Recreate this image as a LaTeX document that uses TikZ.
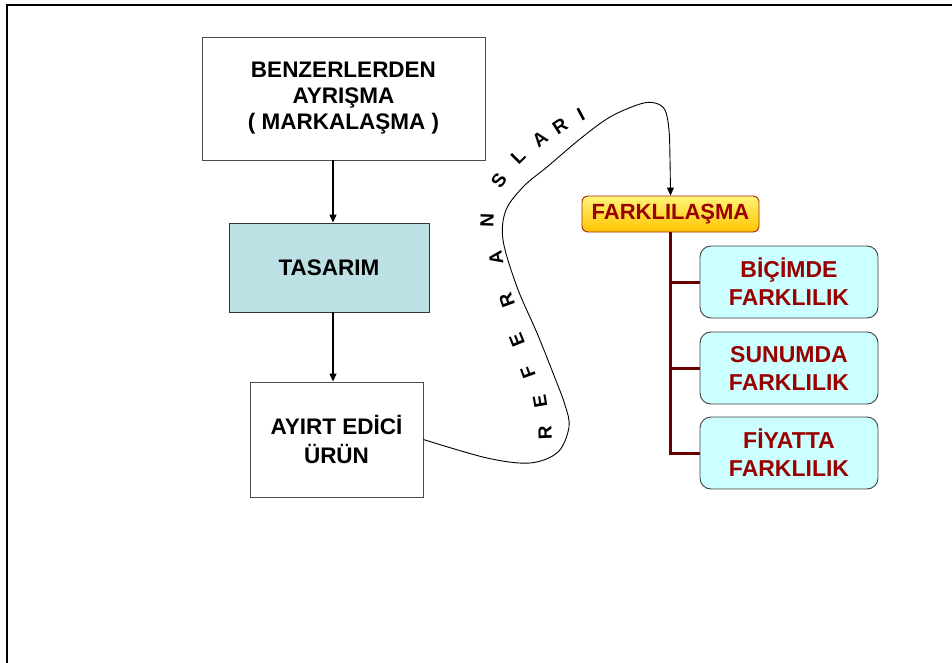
\documentclass[tikz,border=0pt]{standalone}
\usepackage{fontspec}
\setmainfont{Liberation Sans}
\usetikzlibrary{arrows.meta}
\definecolor{tasfill}{RGB}{189,224,228}
\definecolor{childfill}{RGB}{204,255,255}
\definecolor{dred}{RGB}{153,0,0}
\definecolor{branchred}{RGB}{105,0,0}
\definecolor{ytop}{RGB}{255,244,120}
\definecolor{ybot}{RGB}{255,196,0}
\definecolor{farkborder}{RGB}{160,40,0}
\begin{document}
\begin{tikzpicture}[x=1pt,y=-1pt,
  leftbox/.style={draw=black!70, line width=0.9pt, rectangle, align=center,
    font=\fontsize{22.5}{26}\selectfont\bfseries, inner sep=0pt},
  childbox/.style={draw=black!75, line width=0.9pt, fill=childfill, rounded corners=11pt,
    minimum width=178pt, minimum height=72pt, align=center, text=dred,
    font=\fontsize{23}{28}\selectfont\bfseries, inner sep=0pt},
  arr/.style={line width=1.2pt, -{Triangle[length=8pt,width=7pt]}},
  branch/.style={draw=branchred, line width=3pt},
  letter/.style={font=\fontsize{19}{19}\selectfont\bfseries, inner sep=0pt}]
\useasboundingbox (0,0) rectangle (952,663);
\draw[line width=1.5pt] (7,663) -- (7,5) -- (952,5);

\node[leftbox, minimum width=283pt, minimum height=123pt] (b1) at (343.5,98.5)
  {BENZERLERDEN\\AYRIŞMA\\( MARKALAŞMA )};
\node[leftbox, fill=tasfill, draw=black!80, minimum width=200pt, minimum height=89pt] (b2) at (329,267.5)
  {TASARIM};
\node[leftbox, minimum width=173pt, minimum height=115pt, font=\fontsize{22.5}{29.5}\selectfont\bfseries] (b3) at (336.5,439.5)
  {AYIRT EDİCİ\\ÜRÜN};

\coordinate (ax) at (333,0);
\draw[arr] (b1.south -| ax) -- (b2.north -| ax);
\draw[arr] (b2.south -| ax) -- (b3.north -| ax);

\node[draw=farkborder, line width=0.9pt, rounded corners=6pt, top color=ytop, bottom color=ybot,
  minimum width=177pt, minimum height=36pt, inner sep=0pt, text=dred,
  font=\fontsize{22}{26}\selectfont\bfseries] (fk) at (670.5,214) {FARKLILAŞMA};

\node[childbox] (c1) at (789,282) {BİÇİMDE\\FARKLILIK};
\node[childbox] (c2) at (789,368) {SUNUMDA\\FARKLILIK};
\node[childbox] (c3) at (789,453) {FİYATTA\\FARKLILIK};

\draw[branch] (fk.south) |- (c3.west);
\draw[branch] (fk.south) |- (c1.west);
\draw[branch] (fk.south) |- (c2.west);

\draw[line width=0.9pt, -{Triangle[length=8pt,width=7pt]}] plot[smooth, tension=0.55] coordinates {
  (b3.east) (487,458) (530,463) (558,452) (569,427) (565,405) (553,373) (537,333)
  (517,287) (503,240) (506,210) (524,186) (547,167) (580,139) (610,117) (640,104)
  (655,103) (665,110) (669,130) (670,160) (fk.north)};

\node[letter, rotate=92]  (l1)  at (545,433) {R};
\node[letter, rotate=100] (l2)  at (540,401) {E};
\node[letter, rotate=110] (l3)  at (528,372) {F};
\node[letter, rotate=112] (l4)  at (517,340) {E};
\node[letter, rotate=110] (l5)  at (507,300) {R};
\node[letter, rotate=100] (l6)  at (496,258) {A};
\node[letter, rotate=88]  (l7)  at (487,220) {N};
\node[letter, rotate=55]  (l8)  at (499,181) {S};
\node[letter, rotate=45]  (l9)  at (518,157) {L};
\node[letter, rotate=38]  (l10) at (540,139) {A};
\node[letter, rotate=33]  (l11) at (560,126) {R};
\node[letter, rotate=28]  (l12) at (581,114) {I};
\end{tikzpicture}
\end{document}
